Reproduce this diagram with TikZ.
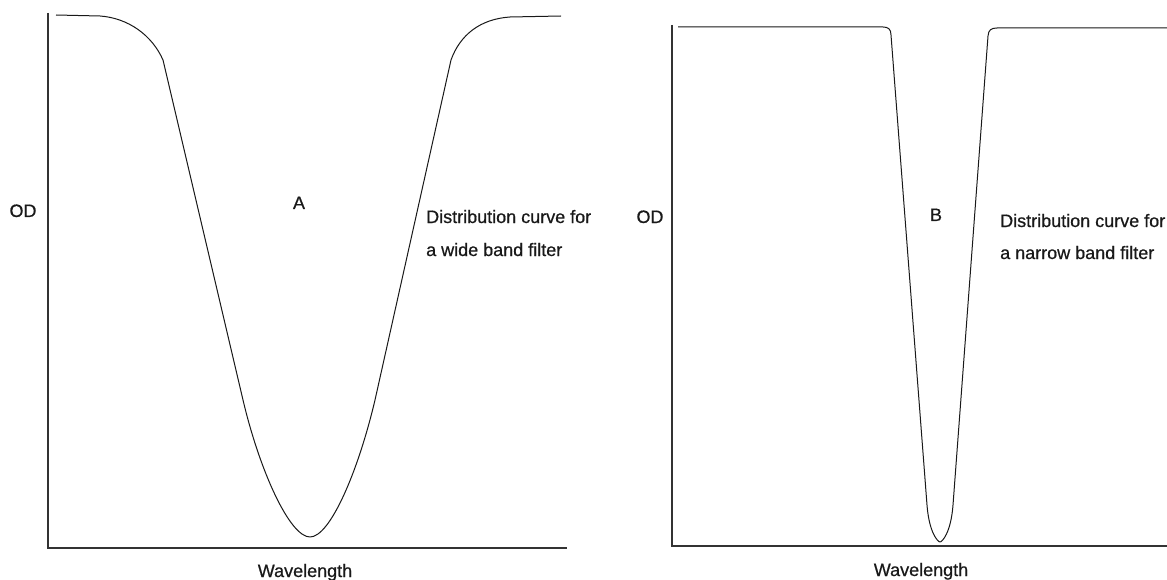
\documentclass[tikz,border=0pt]{standalone}
\usepackage{fontspec}
\setmainfont[FakeBold=0.6]{Liberation Sans}
\begin{document}
\begin{tikzpicture}[x=1pt,y=-1pt,
  axis/.style={draw=black!80,line width=1.4pt},
  curve/.style={draw=black!90,line width=1pt,line join=round},
  lbl/.style={inner sep=0pt,font=\fontsize{18}{21}\selectfont,text=black!90}]
\useasboundingbox[fill=white] (0,0) rectangle (1167,580);
% ---- panel A ----
\coordinate (a0) at (48,13);
\coordinate (ao) at (48,548);
\coordinate (ax) at (567,548);
\draw[axis] (a0) -- (ao) -- (ax);
\draw[curve] (56,15) -- (100,16) .. controls (128,18) and (152,35) .. (163,60)
  -- (243,400) .. controls (260,472) and (290,537) .. (310,537)
  .. controls (330,537) and (358,472) .. (375,400)
  -- (451,60) .. controls (460,35) and (480,19) .. (510,17) -- (561,16);
\node[lbl,anchor=base] (odA) at (23,217) {OD};
\node[lbl,anchor=base] (labA) at (299,209) {A};
\node[lbl,anchor=base west] (dA1) at (426,223) {Distribution curve for};
\node[lbl,anchor=base west] (dA2) at (426,256) {a wide band filter};
\node[lbl,anchor=base] (wA) at (305,577) {Wavelength};
% ---- panel B ----
\coordinate (b0) at (672,25);
\coordinate (bo) at (672,546);
\coordinate (bx) at (1167,546);
\draw[axis] (b0) -- (bo) -- (bx);
\draw[curve] (678,27) -- (883,27) .. controls (888,27) and (891,29) .. (891,35)
  -- (927,505) .. controls (929.1,533) and (938,542) .. (940,542)
  .. controls (942,542) and (950.9,533) .. (953,505)
  -- (988,36) .. controls (988.5,30) and (991,28) .. (997,28) -- (1167,28);
\node[lbl,anchor=base] (odB) at (650,223) {OD};
\node[lbl,anchor=base] (labB) at (936,221) {B};
\node[lbl,anchor=base west] (dB1) at (1000,227) {Distribution curve for};
\node[lbl,anchor=base west] (dB2) at (1000,259) {a narrow band filter};
\node[lbl,anchor=base] (wB) at (921,576) {Wavelength};
\end{tikzpicture}
\end{document}
